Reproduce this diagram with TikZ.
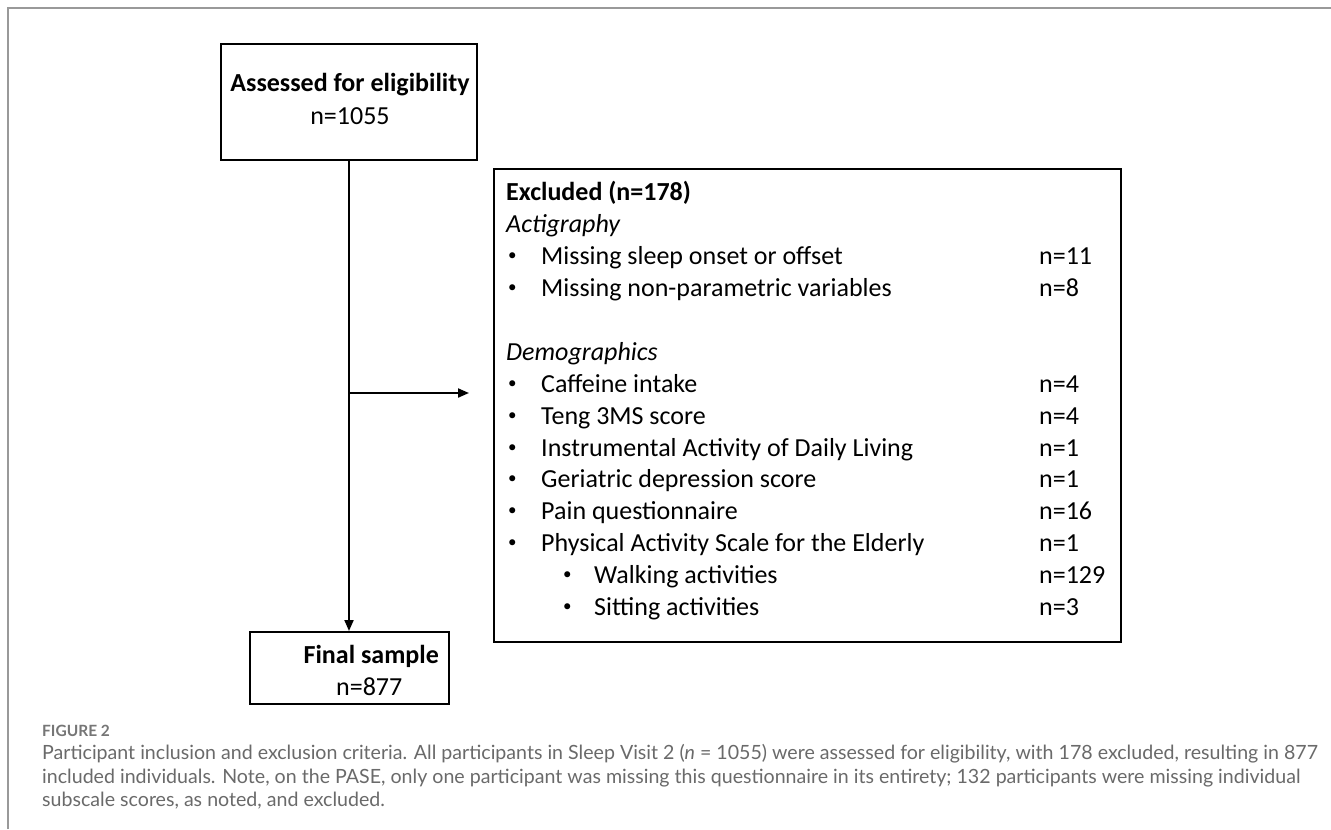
\documentclass[tikz,border=0pt]{standalone}
\usepackage{fontspec}
\setmainfont{Carlito}
\newfontfamily\capfont{Lato}
\usetikzlibrary{arrows.meta}
\definecolor{framegray}{HTML}{999999}
\definecolor{capgray}{HTML}{6A6A6A}
\definecolor{labgray}{HTML}{767676}
\newcommand{\smallbul}{\raisebox{3.5bp}{\fontsize{17bp}{17bp}\selectfont •}}
\begin{document}
\begin{tikzpicture}[x=1bp,y=-1bp,
  box/.style={draw, line width=2bp, inner sep=0},
  conn/.style={line width=2bp},
  arr/.style={conn, -{Triangle[length=11bp,width=9bp]}},
  txt/.style={inner sep=0, anchor=base west, font=\fontsize{26bp}{32bp}\selectfont},
  ctxt/.style={txt, anchor=base},
  captxt/.style={inner sep=0, anchor=base west, text=capgray, font=\capfont\fontsize{19.6bp}{24bp}\selectfont}
]
\useasboundingbox (0,0) rectangle (1331,829);
\fill[white] (0,0) rectangle (1331,829);
\draw[framegray, line width=2bp] (8,829) -- (8,8) -- (1331,8);

% boxes
\node[box, minimum width=256bp, minimum height=116bp] (assess) at (349,102) {};
\node[box, minimum width=627bp, minimum height=473bp] (excl) at (807.5,405.5) {};
\node[box, minimum width=199bp, minimum height=72bp] (final) at (349,668) {};

% box texts
\node[ctxt] (a1) at (350,91) {\bfseries Assessed for eligibility};
\node[ctxt] (a2) at (350,124) {n=1055};

\node[txt, anchor=base east] (f1) at (439,663) {\bfseries Final sample};
\node[txt] (f2) at (336,695) {n=877};

\node[txt] (e0) at (506,200) {\bfseries Excluded (n=178)};
\node[txt] (e1) at (506,232) {\itshape Actigraphy};
\node[txt] (b1) at (508,264) {\smallbul};
\node[txt] (t1) at (541,264) {Missing sleep onset or offset};
\node[txt] (n1) at (1039,264) {n=11};
\node[txt] (b2) at (508,296) {\smallbul};
\node[txt] (t2) at (541,296) {Missing non-parametric variables};
\node[txt] (n2) at (1039,296) {n=8};
\node[txt] (e2) at (506,360) {\itshape Demographics};
\node[txt] (b3) at (508,392) {\smallbul};
\node[txt] (t3) at (541,392) {Caffeine intake};
\node[txt] (n3) at (1039,392) {n=4};
\node[txt] (b4) at (508,424) {\smallbul};
\node[txt] (t4) at (541,424) {Teng 3MS score};
\node[txt] (n4) at (1039,424) {n=4};
\node[txt] (b5) at (508,456) {\smallbul};
\node[txt] (t5) at (541,456) {Instrumental Activity of Daily Living};
\node[txt] (n5) at (1039,456) {n=1};
\node[txt] (b6) at (508,487) {\smallbul};
\node[txt] (t6) at (541,487) {Geriatric depression score};
\node[txt] (n6) at (1039,487) {n=1};
\node[txt] (b7) at (508,519) {\smallbul};
\node[txt] (t7) at (541,519) {Pain questionnaire};
\node[txt] (n7) at (1039,519) {n=16};
\node[txt] (b8) at (508,551) {\smallbul};
\node[txt] (t8) at (541,551) {Physical Activity Scale for the Elderly};
\node[txt] (n8) at (1039,551) {n=1};
\node[txt] (b9) at (563,583) {\smallbul};
\node[txt] (t9) at (594,583) {Walking activities};
\node[txt] (n9) at (1039,583) {n=129};
\node[txt] (b10) at (563,615) {\smallbul};
\node[txt] (t10) at (594,615) {Sitting activities};
\node[txt] (n10) at (1039,615) {n=3};

% connectors
\coordinate (branch) at (349,393);
\draw[arr] (assess.south) -- (final.north);
\draw[arr, shorten >=24bp] (branch) -- (branch -| excl.west);

% caption
\node[inner sep=0, anchor=base west, text=labgray, font=\capfont\bfseries\fontsize{15.5bp}{16bp}\selectfont] (figlab) at (42,736) {FIGURE 2};
\node[captxt] (c1) at (42,759) {Participant inclusion and exclusion criteria. All participants in Sleep Visit 2 (\textit{n} = 1055) were assessed for eligibility, with 178 excluded, resulting in 877};
\node[captxt] (c2) at (42,783) {included individuals. Note, on the PASE, only one participant was missing this questionnaire in its entirety; 132 participants were missing individual};
\node[captxt] (c3) at (42,806) {subscale scores, as noted, and excluded.};
\end{tikzpicture}
\end{document}
